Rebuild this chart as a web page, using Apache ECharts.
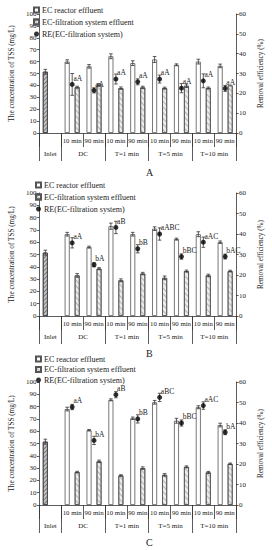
<!DOCTYPE html>
<html>
<head>
<meta charset="utf-8">
<script src="https://cdn.jsdelivr.net/npm/echarts@6/dist/echarts.min.js"></script>
<style>html,body{margin:0;padding:0;background:#fff}#c{width:272px;height:550px}</style>
</head>
<body>
<div id="c"></div>
<script>
// ---- data ----
var xLabels = ['', '10 min', '90 min', '10 min', '90 min', '10 min', '90 min', '10 min', '90 min'];
var groupLabels = ['Inlet', 'DC', 'T=1 min', 'T=5 min', 'T=10 min'];
var groupSizes = [1, 2, 2, 2, 2];
var panelTitles = ['A', 'B', 'C'];

var inletVals = [51.5, 51.5, 51.5];
var inletErrs = [2, 2, 2];

var reactorA = [null, 60, 56, 64.5, 58.7, 61.8, 57.3, 60, 56.4];
var reactorErrA = [0, 1.5, 1.5, 2, 2, 2.5, 0.8, 2, 1.5];
var filtA = [null, 38.5, 40.5, 37.7, 38.3, 37.7, 39.7, 37.8, 40];
var filtErrA = [0, 0.8, 1, 1, 1, 0.8, 1.5, 0.8, 0];
var reA = [null, 24.5, 21.5, 27.2, 25.8, 27.2, 22.6, 26.3, 22.5];
var reErrA = [0, 5.5, 1.3, 2.5, 1.5, 2, 2.3, 3.5, 1.5];
var labelsA = ['', 'aA', 'aA', 'aA', 'aA', 'aA', 'aA', 'aA', 'aA'];

var reactorB = [null, 66.5, 56, 73, 66.5, 71, 62.5, 66.5, 60];
var reactorErrB = [0, 1.5, 0.8, 2.5, 1.5, 1.5, 0.8, 2, 1];
var filtB = [null, 33, 38.5, 29, 34.5, 31, 36.5, 33, 36.5];
var filtErrB = [0, 1.5, 0.8, 1.2, 1, 1.5, 0.8, 1, 0.7];
var reB = [null, 35.7, 25, 43.2, 32.8, 40, 29, 36, 29];
var reErrB = [0, 2.5, 1, 3, 2, 3, 1.3, 2.5, 1.2];
var labelsB = ['', 'aA', 'bA', 'aB', 'bB', 'aABC', 'bBC', 'aAC', 'bAC'];

var reactorC = [null, 78, 60.8, 85.5, 70.5, 83.5, 68.5, 79.5, 65];
var reactorErrC = [0, 1.5, 0.6, 0.8, 1, 1.5, 2, 1.2, 1.5];
var filtC = [null, 26.8, 35.5, 24, 30, 24.5, 31, 26.5, 33.5];
var filtErrC = [0, 0.6, 1, 0.6, 1, 1, 0.8, 0.8, 0.6];
var reC = [null, 47.8, 31.5, 53.8, 42, 52.5, 40, 48.5, 35.5];
var reErrC = [0, 1.3, 2, 1.5, 2, 2, 1.5, 1.8, 1.2];
var labelsC = ['', 'aA', 'bA', 'aB', 'bB', 'aBC', 'bBC', 'aAC', 'bA'];

var panels = [
  {reactor: reactorA, reactorErr: reactorErrA, filt: filtA, filtErr: filtErrA, re: reA, reErr: reErrA, labels: labelsA},
  {reactor: reactorB, reactorErr: reactorErrB, filt: filtB, filtErr: filtErrB, re: reB, reErr: reErrB, labels: labelsB},
  {reactor: reactorC, reactorErr: reactorErrC, filt: filtC, filtErr: filtErrC, re: reC, reErr: reErrC, labels: labelsC}
];

// ---- layout / style ----
var FONT = '"Liberation Serif", "DejaVu Serif", serif';
var TXT = '#222';
var LINE = '#333';
var layout = [
  {grid: {left: 28, right: 24, top: 14, height: 119}, title: 162, legendTop: 6, legendLeft: 33, legendGap: 4},
  {grid: {left: 30, right: 26, top: 193, height: 123}, title: 343, legendTop: 181, legendLeft: 35, legendGap: 4},
  {grid: {left: 30, right: 25, top: 382, height: 123}, title: 532, legendTop: 355, legendLeft: 35, legendGap: 2.5}
];
var NAMES = ['EC reactor effluent', 'EC-filtration system effluent', 'RE(EC-filtration system)'];

var filtStyle = {
  color: '#ececec', borderColor: '#555', borderWidth: 0.8,
  decal: {symbol: 'rect', symbolSize: 1, color: 'rgba(110,110,110,0.45)', dashArrayX: [1, 0], dashArrayY: [1, 2.5], rotation: Math.PI / 4}
};
var inletStyle = {
  color: '#c4c4c4', borderColor: '#444', borderWidth: 0.8,
  decal: {symbol: 'rect', symbolSize: 1, color: 'rgba(60,60,60,0.55)', dashArrayX: [1, 0], dashArrayY: [1, 2], rotation: -Math.PI / 4}
};

// group boundaries/centers computed from group sizes
var bounds = [0], centers = [];
groupSizes.forEach(function (s) { var b = bounds[bounds.length - 1]; centers.push(b + s / 2); bounds.push(b + s); });

function errSeries(xi, yi, vals, errs, offset) {
  var data = [];
  vals.forEach(function (v, i) { if (v != null && errs[i] > 0) data.push([i, v, errs[i]]); });
  return {
    type: 'custom', xAxisIndex: xi, yAxisIndex: yi, z: 5, silent: true,
    encode: {x: 0, y: 1},
    data: data,
    renderItem: function (params, api) {
      var i = api.value(0), v = api.value(1), e = api.value(2);
      var top = api.coord([i, v + e]);
      var bot = api.coord([i, v - e]);
      var x = top[0] + offset;
      var w = 1.8;
      var st = {stroke: LINE, lineWidth: 0.8};
      return {type: 'group', children: [
        {type: 'line', shape: {x1: x, y1: top[1], x2: x, y2: bot[1]}, style: st},
        {type: 'line', shape: {x1: x - w, y1: top[1], x2: x + w, y2: top[1]}, style: st},
        {type: 'line', shape: {x1: x - w, y1: bot[1], x2: x + w, y2: bot[1]}, style: st}
      ]};
    }
  };
}

function labelSeries(xi, yi, vals, labels) {
  var data = [];
  vals.forEach(function (v, i) { if (v != null && labels[i]) data.push([i, v, i]); });
  return {
    type: 'custom', xAxisIndex: xi, yAxisIndex: yi, z: 7, silent: true,
    encode: {x: 0, y: 1},
    data: data,
    renderItem: function (params, api) {
      var i = api.value(0), v = api.value(1);
      var pt = api.coord([i, v]);
      return {type: 'text', x: pt[0] + 1.2, y: pt[1] - 2.2, style: {
        text: labels[api.value(2)], fill: TXT, font: '7.5px ' + FONT,
        align: 'left', verticalAlign: 'bottom'
      }};
    }
  };
}

var grids = [], xAxes = [], yAxes = [], series = [], titles = [], legends = [];
panels.forEach(function (p, g) {
  var L = layout[g];
  grids.push(L.grid);
  var xc = xAxes.length;
  xAxes.push({
    type: 'category', gridIndex: g, data: xLabels, position: 'bottom',
    axisLine: {show: true, lineStyle: {color: LINE, width: 0.8}},
    axisTick: {show: true, interval: 0, length: 14, alignWithLabel: false, lineStyle: {color: LINE, width: 0.8}},
    axisLabel: {interval: 0, margin: 4, fontSize: 6.8, fontFamily: FONT, color: TXT}
  });
  xAxes.push({
    type: 'value', gridIndex: g, min: 0, max: xLabels.length, position: 'bottom',
    axisLine: {show: false}, splitLine: {show: false},
    axisTick: {show: true, customValues: bounds, length: 28, lineStyle: {color: LINE, width: 0.8}},
    axisLabel: {customValues: centers, margin: 17, fontSize: 7, fontFamily: FONT, color: TXT,
      formatter: function (v) { var k = centers.indexOf(v); return k >= 0 ? groupLabels[k] : ''; }}
  });
  var yl = yAxes.length;
  yAxes.push({
    type: 'value', gridIndex: g, min: 0, max: 100, interval: 10, position: 'left',
    name: 'The concentration of TSS (mg/L)', nameLocation: 'middle', nameGap: 18, nameRotate: 90,
    nameTextStyle: {fontSize: 7.2, fontFamily: FONT, color: TXT},
    axisLine: {show: true, lineStyle: {color: LINE, width: 0.8}},
    axisTick: {show: true, length: 2.5, lineStyle: {color: LINE, width: 0.8}},
    axisLabel: {margin: 3, fontSize: 7, fontFamily: FONT, color: TXT},
    splitLine: {show: false}
  });
  yAxes.push({
    type: 'value', gridIndex: g, min: 0, max: 60, interval: 10, position: 'right',
    name: 'Removal efficiency (%)', nameLocation: 'middle', nameGap: 14, nameRotate: 90,
    nameTextStyle: {fontSize: 7.2, fontFamily: FONT, color: TXT},
    axisLine: {show: true, lineStyle: {color: LINE, width: 0.8}},
    axisTick: {show: true, length: 2.5, lineStyle: {color: LINE, width: 0.8}},
    axisLabel: {margin: 3, fontSize: 7, fontFamily: FONT, color: TXT},
    splitLine: {show: false}
  });
  var yr = yl + 1;

  var reactorData = p.reactor.map(function (v, i) {
    if (i === 0) return {value: inletVals[g], itemStyle: inletStyle};
    return v;
  });
  var reactorErrVals = p.reactor.map(function (v, i) { return i === 0 ? inletVals[g] : v; });
  var reactorErrs = p.reactorErr.map(function (e, i) { return i === 0 ? inletErrs[g] : e; });

  series.push({
    name: NAMES[0], type: 'bar', xAxisIndex: xc, yAxisIndex: yl,
    barWidth: 5, barGap: '100%', data: reactorData,
    itemStyle: {color: '#fff', borderColor: '#555', borderWidth: 0.8}
  });
  series.push({
    name: NAMES[1], type: 'bar', xAxisIndex: xc, yAxisIndex: yl,
    barWidth: 5, barGap: '100%', data: p.filt.map(function (v) { return v == null ? '-' : v; }),
    itemStyle: filtStyle
  });
  series.push({
    name: NAMES[2], type: 'scatter', xAxisIndex: xc, yAxisIndex: yr, z: 6,
    symbol: 'circle', symbolSize: 5,
    itemStyle: {color: '#000'},
    data: p.re.map(function (v) { return v == null ? '-' : v; })
  });
  series.push(errSeries(xc, yl, reactorErrVals, reactorErrs, -5));
  series.push(errSeries(xc, yl, p.filt, p.filtErr, 5));
  series.push(errSeries(xc, yr, p.re, p.reErr, 0));
  series.push(labelSeries(xc, yr, p.re, p.labels));

  titles.push({text: panelTitles[g], left: 141, top: L.title,
    textStyle: {fontSize: 10, fontWeight: 'normal', fontFamily: FONT, color: TXT}});
  legends.push({
    orient: 'vertical', left: L.legendLeft, top: L.legendTop, padding: 0,
    itemWidth: 5, itemHeight: 5, itemGap: L.legendGap,
    selectedMode: false,
    textStyle: {fontSize: 8, fontFamily: FONT, color: TXT, padding: [0, 0, 0, -2]},
    data: [{name: NAMES[0], icon: 'rect'}, {name: NAMES[1], icon: 'rect'}, {name: NAMES[2], icon: 'circle'}]
  });
});

var chart = echarts.init(document.getElementById('c'), null, {renderer: 'svg'});
chart.setOption({
  animation: false,
  backgroundColor: '#fff',
  title: titles,
  legend: legends,
  grid: grids,
  xAxis: xAxes,
  yAxis: yAxes,
  series: series
});
</script>
</body>
</html>
